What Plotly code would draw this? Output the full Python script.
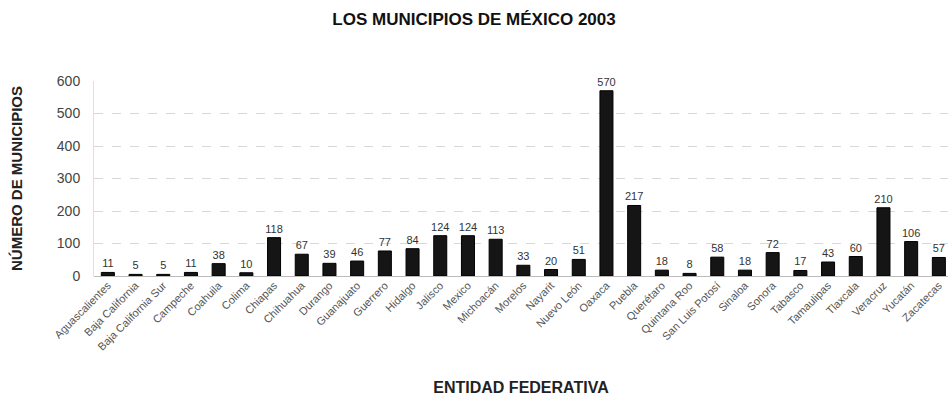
import plotly.graph_objects as go

estados = [
    "Aguascalientes", "Baja California", "Baja California Sur", "Campeche",
    "Coahuila", "Colima", "Chiapas", "Chihuahua", "Durango", "Guanajuato",
    "Guerrero", "Hidalgo", "Jalisco", "Mexico", "Michoacán", "Morelos",
    "Nayarit", "Nuevo León", "Oaxaca", "Puebla", "Querétaro", "Quintana Roo",
    "San Luis Potosí", "Sinaloa", "Sonora", "Tabasco", "Tamaulipas",
    "Tlaxcala", "Veracruz", "Yucatán", "Zacatecas",
]
municipios = [
    11, 5, 5, 11, 38, 10, 118, 67, 39, 46, 77, 84, 124, 124, 113, 33,
    20, 51, 570, 217, 18, 8, 58, 18, 72, 17, 43, 60, 210, 106, 57,
]
y_ticks = [0, 100, 200, 300, 400, 500, 600]

FONT = "Liberation Sans, Arial, sans-serif"

fig = go.Figure(
    go.Bar(
        x=estados,
        y=municipios,
        width=0.47,
        marker=dict(color="#151515", line=dict(color="#000000", width=1)),
        text=[str(v) for v in municipios],
        textposition="outside",
        cliponaxis=False,
        textfont=dict(family=FONT, size=11, color="#333333"),
    )
)

fig.update_layout(
    width=948,
    height=396,
    paper_bgcolor="white",
    plot_bgcolor="white",
    margin=dict(l=94, r=0, t=81, b=120),
    showlegend=False,
    uniformtext=dict(minsize=11, mode="show"),
    title=dict(
        text="<b>LOS MUNICIPIOS DE MÉXICO 2003</b>",
        x=0.5,
        xanchor="center",
        y=0.953,
        yanchor="middle",
        font=dict(family=FONT, size=17, color="#111111"),
    ),
    font=dict(family=FONT),
)

fig.update_xaxes(
    type="category",
    range=[-0.5, 30.33],
    tickangle=-45,
    tickfont=dict(family=FONT, size=11, color="#555555"),
    showgrid=False,
    showline=False,
    ticks="",
    title=dict(
        text="<b>ENTIDAD FEDERATIVA</b>",
        font=dict(family=FONT, size=16, color="#222222"),
        standoff=31,
    ),
)

fig.update_yaxes(
    range=[0, 600],
    tickvals=y_ticks,
    ticktext=[str(t) for t in y_ticks],
    tickfont=dict(family=FONT, size=14, color="#444444"),
    showgrid=True,
    gridcolor="#d8d8d8",
    gridwidth=1,
    griddash="dash",
    zeroline=True,
    zerolinecolor="#bbbbbb",
    zerolinewidth=1,
    showline=True,
    linecolor="#e0e0e0",
    ticks="",
    ticklabelstandoff=10,
    title=dict(
        text="<b>NÚMERO DE MUNICIPIOS</b>",
        font=dict(family=FONT, size=15, color="#222222"),
        standoff=30,
    ),
)

fig.write_html("out.html")
